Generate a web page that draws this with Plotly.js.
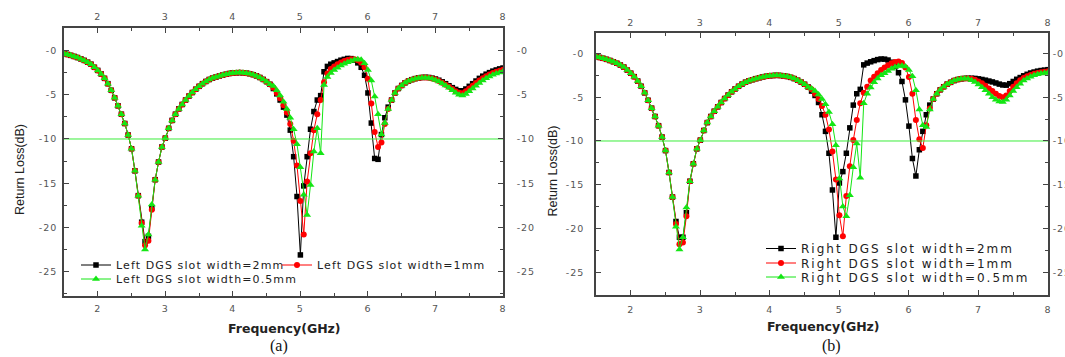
<!DOCTYPE html>
<html><head><meta charset="utf-8">
<script src="https://cdn.plot.ly/plotly-3.0.1.min.js"></script>
<style>
html,body{margin:0;padding:0;background:#fff;}
#chart{width:1065px;height:357px;}
text.legendtext, text.legend2text, text.legend3text{letter-spacing:1.1px;}
text.legend4text, text.legend5text, text.legend6text{letter-spacing:2px;}
g.xtick text, g.x2tick text, g.x3tick text, g.x4tick text,
g.ytick text, g.y2tick text, g.y3tick text, g.y4tick text{letter-spacing:1px;}
</style></head>
<body><div id="chart"></div>
<script>
// ---------- data ----------
const freq = [1.5,1.55,1.6,1.65,1.7,1.75,1.8,1.85,1.9,1.95,
  2,2.05,2.1,2.15,2.2,2.25,2.3,2.35,2.4,2.45,2.5,2.55,2.6,2.65,2.7,2.75,2.8,2.85,2.9,2.95,
  3,3.05,3.1,3.15,3.2,3.25,3.3,3.35,3.4,3.45,3.5,3.55,3.6,3.65,3.7,3.75,3.8,3.85,3.9,3.95,
  4,4.05,4.1,4.15,4.2,4.25,4.3,4.35,4.4,4.45,4.5,4.55,4.6,4.65,4.7,4.75,4.8,4.85,4.9,4.95,
  5,5.05,5.1,5.15,5.2,5.25,5.3,5.35,5.4,5.45,5.5,5.55,5.6,5.65,5.7,5.75,5.8,5.85,5.9,5.95,
  6,6.05,6.1,6.15,6.2,6.25,6.3,6.35,6.4,6.45,6.5,6.55,6.6,6.65,6.7,6.75,6.8,6.85,6.9,6.95,
  7,7.05,7.1,7.15,7.2,7.25,7.3,7.35,7.4,7.45,7.5,7.55,7.6,7.65,7.7,7.75,7.8,7.85,7.9,7.95,8];

// shared part 1.50–2.60 GHz (all curves overlap)
const lowRise = [-0.35,-0.45,-0.55,-0.67,-0.8,-0.95,-1.12,-1.32,-1.55,-1.9,
  -2.25,-2.65,-3.15,-3.75,-4.5,-5.35,-6.25,-7.2,-8.25,-9.55,-11.1,-13.6,-16.4];
// first resonance 2.65–2.80 GHz
const leftBlackDip  = [-19.4,-21.6,-21.0,-17.8];
const leftRedDip    = [-19.5,-22.0,-21.5,-18.0];
const leftGreenDip  = [-19.8,-22.5,-20.8,-17.4];
const rightBlackDip = [-19.2,-21.0,-21.0,-18.2];
const rightRedDip   = [-19.5,-21.8,-21.6,-18.6];
const rightGreenDip = [-19.8,-22.4,-21.0,-17.6];
// shared part 2.85–4.55 GHz
const midRise = [-14.6,-12.6,-10.9,
  -9.9,-8.8,-7.9,-7.2,-6.6,-6.1,-5.6,-5.15,-4.75,-4.38,
  -4.05,-3.75,-3.5,-3.28,-3.12,-3.0,-2.88,-2.78,-2.68,-2.6,
  -2.55,-2.52,-2.5,-2.52,-2.56,-2.63,-2.73,-2.87,-3.05,-3.27,
  -3.52,-3.82];
// 4.60–8.00 GHz, left DGS
const leftBlackTail = [-4.3,-4.9,-5.6,-6.4,-7.3,-9.0,-12.0,-16.5,-23.1,
  -15.3,-12.0,-8.9,-6.9,-5.6,-5.1,-2.4,-1.8,-1.55,-1.4,
  -1.25,-1.1,-1.0,-0.9,-0.92,-1.1,-1.4,-1.9,-2.8,-4.8,
  -8.2,-12.2,-12.3,-9.5,-7.6,-6.4,
  -5.6,-4.8,-4.3,-3.95,-3.65,-3.45,-3.3,-3.18,-3.1,-3.05,-3.03,-3.05,-3.12,
  -3.22,-3.36,-3.54,-3.75,-3.98,-4.2,-4.4,-4.55,-4.55,-4.35,
  -4.05,-3.75,-3.45,-3.15,-2.9,-2.68,-2.5,-2.33,-2.2,-2.08,
  -1.98];
const leftRedTail = [-4.2,-4.8,-5.4,-6.2,-7.0,-8.3,-10.2,-13.0,-17.0,
  -20.8,-14.8,-11.6,-9.0,-7.2,-5.6,-3.6,-2.6,-2.1,-1.8,
  -1.55,-1.35,-1.2,-1.08,-1.0,-0.98,-1.1,-1.4,-1.9,-3.2,
  -6.0,-9.2,-10.9,-10.4,-8.3,-6.6,
  -5.6,-4.8,-4.3,-3.95,-3.65,-3.45,-3.3,-3.18,-3.1,-3.06,-3.05,-3.08,-3.16,
  -3.28,-3.44,-3.64,-3.87,-4.1,-4.35,-4.6,-4.78,-4.82,-4.62,
  -4.3,-3.98,-3.68,-3.4,-3.15,-2.92,-2.72,-2.55,-2.4,-2.28,
  -2.18];
const leftGreenTail = [-4.0,-4.5,-5.1,-5.8,-6.6,-7.6,-8.9,-10.6,-13.2,
  -16.3,-18.6,-15.2,-11.4,-8.8,-11.6,-3.9,-3.0,-2.55,-2.2,
  -1.95,-1.7,-1.5,-1.32,-1.18,-1.06,-0.98,-1.05,-1.45,-2.2,
  -3.4,-5.2,-7.2,-9.5,-8.2,-6.6,
  -5.6,-4.8,-4.3,-3.95,-3.65,-3.45,-3.3,-3.18,-3.1,-3.07,-3.07,-3.1,-3.2,
  -3.33,-3.5,-3.72,-3.96,-4.22,-4.5,-4.78,-5.0,-5.1,-4.92,
  -4.62,-4.3,-3.98,-3.68,-3.4,-3.15,-2.93,-2.75,-2.6,-2.48,
  -2.38];
// 4.60–8.00 GHz, right DGS
const rightBlackTail = [-4.3,-4.8,-5.6,-7.0,-8.9,-11.4,-15.6,-21.0,-14.8,
  -13.5,-11.4,-8.5,-5.9,-4.6,-4.1,-1.3,-1.1,-0.95,-0.82,
  -0.7,-0.63,-0.65,-0.75,-1.0,-1.5,-2.2,-3.2,-5.3,-8.3,
  -12.0,-14.0,-11.0,-8.9,-7.0,-5.9,
  -5.2,-4.6,-4.15,-3.8,-3.5,-3.3,-3.1,-2.98,-2.9,-2.85,-2.83,-2.83,-2.85,
  -2.9,-2.97,-3.05,-3.15,-3.25,-3.37,-3.5,-3.6,-3.62,-3.45,
  -3.2,-2.95,-2.75,-2.55,-2.38,-2.23,-2.12,-2.02,-1.95,-1.9,
  -1.85];
const rightRedTail = [-4.1,-4.6,-5.2,-6.0,-7.0,-8.7,-11.2,-14.4,-18.5,
  -20.9,-16.3,-12.9,-9.9,-7.6,-5.7,-4.5,-3.8,-3.1,-2.65,
  -2.25,-1.9,-1.6,-1.35,-1.12,-0.98,-0.93,-1.1,-1.6,-2.7,
  -4.6,-7.6,-9.8,-10.8,-8.2,-6.3,
  -5.2,-4.6,-4.15,-3.8,-3.5,-3.3,-3.1,-2.98,-2.9,-2.85,-2.85,-2.9,-3.0,
  -3.2,-3.4,-3.7,-4.0,-4.3,-4.6,-4.85,-5.0,-4.8,-4.3,
  -3.8,-3.4,-3.05,-2.8,-2.6,-2.45,-2.32,-2.22,-2.14,-2.08,
  -2.02];
const rightGreenTail = [-4.0,-4.3,-4.7,-5.2,-5.8,-6.7,-8.1,-10.5,-14.3,
  -17.5,-18.6,-16.2,-13.0,-10.3,-14.2,-5.7,-4.6,-3.9,-3.3,
  -2.85,-2.5,-2.25,-2.0,-1.75,-1.55,-1.42,-1.4,-1.5,-1.9,
  -2.6,-4.2,-6.4,-8.2,-8.4,-6.4,
  -5.2,-4.6,-4.15,-3.8,-3.5,-3.3,-3.1,-2.98,-2.9,-2.87,-2.9,-3.05,-3.25,
  -3.55,-3.85,-4.2,-4.6,-5.0,-5.3,-5.5,-5.55,-5.3,-4.8,
  -4.3,-3.85,-3.45,-3.1,-2.85,-2.65,-2.5,-2.38,-2.3,-2.23,
  -2.18];

const leftBlack  = [...lowRise, ...leftBlackDip,  ...midRise, ...leftBlackTail];
const leftRed    = [...lowRise, ...leftRedDip,    ...midRise, ...leftRedTail];
const leftGreen  = [...lowRise, ...leftGreenDip,  ...midRise, ...leftGreenTail];
const rightBlack = [...lowRise, ...rightBlackDip, ...midRise, ...rightBlackTail];
const rightRed   = [...lowRise, ...rightRedDip,   ...midRise, ...rightRedTail];
const rightGreen = [...lowRise, ...rightGreenDip, ...midRise, ...rightGreenTail];

const refFreq = [1.5, 8];
const refLevel = [-10, -10];

const leftNames  = ['Left DGS slot width=2mm','Left DGS slot width=1mm','Left DGS slot width=0.5mm'];
const rightNames = ['Right DGS slot width=2mm','Right DGS slot width=1mm','Right DGS slot width=0.5mm'];

const xTickVals = [2,3,4,5,6,7,8];
const xTickText = ['2','3','4','5','6','7','8'];
const yTickVals = [0,-5,-10,-15,-20,-25];
const yTickText = ['-0','-5','-10','-15','-20','-25'];

// ---------- styles ----------
const colBlack = '#000000', colRed = '#ff0000', colGreen = '#14e614', colRef = '#3ced3c';
function series(x, y, name, color, symbol, size, xa, ya, leg) {
  return {x, y, name, type:'scatter', mode:'lines+markers', xaxis:xa, yaxis:ya, legend:leg,
    line:{color, width:1}, marker:{color, symbol, size, line:{width:0}}};
}
function refLine(xa, ya) {
  return {x:refFreq, y:refLevel, type:'scatter', mode:'lines', xaxis:xa, yaxis:ya,
    showlegend:false, hoverinfo:'skip', line:{color:colRef, width:1}};
}
const data = [
  refLine('x2','y2'),
  series(freq, leftBlack, leftNames[0], colBlack, 'square', 5.5, 'x','y','legend'),
  series(freq, leftRed,   leftNames[1], colRed,   'circle', 6,   'x','y','legend2'),
  series(freq, leftGreen, leftNames[2], colGreen, 'triangle-up', 7, 'x','y','legend3'),
  refLine('x4','y4'),
  series(freq, rightBlack, rightNames[0], colBlack, 'square', 5.5, 'x3','y3','legend4'),
  series(freq, rightRed,   rightNames[1], colRed,   'circle', 6,   'x3','y3','legend5'),
  series(freq, rightGreen, rightNames[2], colGreen, 'triangle-up', 7, 'x3','y3','legend6')
];

const W = 1065, H = 357;
const tickFont = {family:'DejaVu Sans, Arial', size:9.5, color:'#555'};
function xAx(domain, extra) {
  return Object.assign({domain, range:[1.5,8], showgrid:false, zeroline:false, showline:true,
    linecolor:'#444', linewidth:1.5, ticks:'inside', ticklen:5, tickwidth:1.2, tickcolor:'#444',
    tickmode:'array', tickvals:xTickVals, ticktext:xTickText, tickfont:tickFont,
    minor:{tickmode:'linear', tick0:0, dtick:0.5, ticks:'inside', ticklen:3, tickwidth:1, tickcolor:'#444'},
    fixedrange:true}, extra);
}
function yAx(domain, range, extra) {
  return Object.assign({domain, range, showgrid:false, zeroline:false, showline:true,
    linecolor:'#444', linewidth:1.5, ticks:'inside', ticklen:5, tickwidth:1.2, tickcolor:'#444',
    tickmode:'array', tickvals:yTickVals, ticktext:yTickText, tickfont:tickFont,
    minor:{tickmode:'linear', tick0:0, dtick:2.5, ticks:'inside', ticklen:3, tickwidth:1, tickcolor:'#444'},
    fixedrange:true}, extra);
}
const lxd = [64/W, 503/W], rxd = [596/W, 1048/W];
const lyd = [1-296/H, 1-28/H], ryd = [1-295/H, 1-33/H];
const lyr = [-27.74, 2.54], ryr = [-27.6, 2.34];

function leg(xpx, ypx, size) {
  return {x:xpx/W, y:1-ypx/H, xanchor:'left', yanchor:'middle', bgcolor:'rgba(0,0,0,0)',
    borderwidth:0, font:{family:'DejaVu Sans', size, color:'#222'}, itemwidth:30};
}

const layout = {
  width:W, height:H, margin:{l:0,r:0,t:0,b:0}, paper_bgcolor:'#fff', plot_bgcolor:'rgba(0,0,0,0)',
  showlegend:true,
  xaxis:  xAx(lxd, {anchor:'y', ticklabelstandoff:3}),
  xaxis2: xAx(lxd, {overlaying:'x', side:'top', anchor:'y', ticklabelstandoff:2}),
  yaxis:  yAx(lyd, lyr, {anchor:'x', ticklabelstandoff:3}),
  yaxis2: yAx(lyd, lyr, {overlaying:'y', side:'right', anchor:'x', ticklabelstandoff:10}),
  xaxis3: xAx(rxd, {anchor:'y3', ticklabelstandoff:5}),
  xaxis4: xAx(rxd, {overlaying:'x3', side:'top', anchor:'y3', ticklabelstandoff:1}),
  yaxis3: yAx(ryd, ryr, {anchor:'x3', ticklabelstandoff:8}),
  yaxis4: yAx(ryd, ryr, {overlaying:'y3', side:'right', anchor:'x3', ticklabelstandoff:1}),
  legend:  leg(76, 265, 11),
  legend2: leg(277, 265, 11),
  legend3: leg(76, 279, 11),
  legend4: leg(761, 248.5, 12),
  legend5: leg(761, 263, 12),
  legend6: leg(761, 277, 12),
  annotations:[
    {text:'<b>Frequency(GHz)</b>', x:284/W, y:1-328/H, xref:'paper', yref:'paper', showarrow:false,
      xanchor:'center', yanchor:'middle', font:{family:'DejaVu Sans', size:12.5, color:'#222'}},
    {text:'<b>Frequency(GHz)</b>', x:823/W, y:1-326/H, xref:'paper', yref:'paper', showarrow:false,
      xanchor:'center', yanchor:'middle', font:{family:'DejaVu Sans', size:12.5, color:'#222'}},
    {text:'Return Loss(dB)', x:20/W, y:1-170/H, xref:'paper', yref:'paper', showarrow:false, textangle:-90,
      xanchor:'center', yanchor:'middle', font:{family:'Liberation Sans Narrow, Arial Narrow, Liberation Sans', size:12.5, color:'#222'}},
    {text:'Return Loss(dB)', x:552/W, y:1-171.5/H, xref:'paper', yref:'paper', showarrow:false, textangle:-90,
      xanchor:'center', yanchor:'middle', font:{family:'Liberation Sans Narrow, Arial Narrow, Liberation Sans', size:12.5, color:'#222'}},
    {text:'(a)', x:279/W, y:1-346/H, xref:'paper', yref:'paper', showarrow:false,
      xanchor:'center', yanchor:'middle', font:{family:'Liberation Serif, Times New Roman', size:16, color:'#111'}},
    {text:'(b)', x:831/W, y:1-346/H, xref:'paper', yref:'paper', showarrow:false,
      xanchor:'center', yanchor:'middle', font:{family:'Liberation Serif, Times New Roman', size:16, color:'#111'}}
  ]
};

Plotly.newPlot('chart', data, layout, {displayModeBar:false, responsive:false});
</script>
</body></html>
